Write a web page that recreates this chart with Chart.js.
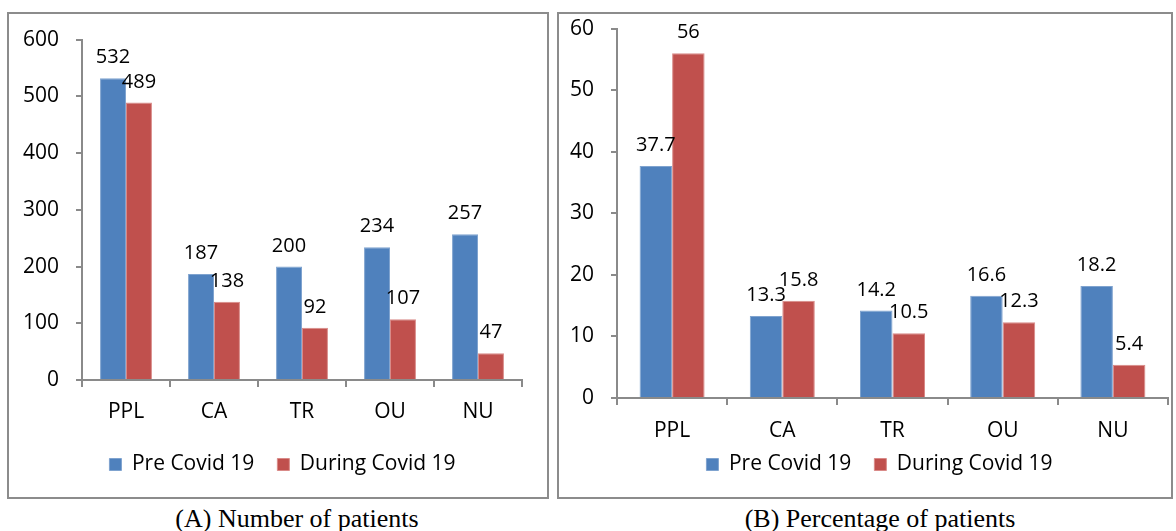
<!DOCTYPE html>
<html>
<head>
<meta charset="utf-8">
<script src="https://cdn.jsdelivr.net/npm/chart.js@4"></script>
<style>
  html, body { margin: 0; padding: 0; background: #fff; }
  body { width: 1176px; height: 531px; position: relative; overflow: hidden; }
  .panel { position: absolute; border: 2px solid #8c8c8c; box-sizing: border-box; }
  canvas { position: absolute; display: block; }
  .caption { position: absolute; top: 504px; font-family: "Liberation Serif", "Times New Roman", serif; font-size: 26px; color: #000; text-align: center; }
</style>
</head>
<body>
<div class="panel" style="left:7px; top:12px; width:542px; height:487px;"></div>
<div class="panel" style="left:557px; top:12px; width:616px; height:487px;"></div>
<canvas id="chartA" width="538" height="487" style="left:9px; top:10px;"></canvas>
<canvas id="chartB" width="612" height="498" style="left:559px; top:-1px;"></canvas>
<div class="caption" style="left:7px; width:580px;">(A) Number of patients</div>
<div class="caption" style="left:590px; width:580px;">(B) Percentage of patients</div>

<script>
// Data
const categories = ['PPL', 'CA', 'TR', 'OU', 'NU'];
const seriesNames = ['Pre Covid 19', 'During Covid 19'];

const patientsPre = [532, 187, 200, 234, 257];
const patientsDuring = [489, 138, 92, 107, 47];

const percentPre = [37.7, 13.3, 14.2, 16.6, 18.2];
const percentDuring = [56, 15.8, 10.5, 12.3, 5.4];

const countTicks = [0, 100, 200, 300, 400, 500, 600];
const percentTicks = [0, 10, 20, 30, 40, 50, 60];

const BLUE = '#4F81BD';
const RED = '#C0504D';
const AXIS = '#8a8a8a';
const FONT = '"Open Sans", Lato, sans-serif';

// Draw the value above each bar
const valueLabels = {
    id: 'valueLabels',
    afterDatasetsDraw(chart) {
        const ctx = chart.ctx;
        ctx.save();
        ctx.font = '20px ' + FONT;
        ctx.fillStyle = '#000';
        ctx.textAlign = 'center';
        ctx.textBaseline = 'alphabetic';
        chart.data.datasets.forEach((ds, i) => {
            const meta = chart.getDatasetMeta(i);
            meta.data.forEach((bar, j) => {
                ctx.fillText(String(ds.data[j]), bar.x, bar.y - 15);
            });
        });
        ctx.restore();
    }
};

// Nudge the legend box (the original sits right of the canvas centre)
const legendShift = {
    id: 'legendShift',
    afterLayout(chart, args, options) {
        const lg = chart.legend;
        if (!lg) return;
        const dx = options.dx || 0;
        const dy = options.dy || 0;
        lg.left += dx;
        lg.right += dx;
        lg.top += dy;
        lg.bottom += dy;
    }
};

function makeChart(id, pre, during, ticks, opts) {
    const ctx = document.getElementById(id);
    return new Chart(ctx, {
        type: 'bar',
        data: {
            labels: categories,
            datasets: [{
                label: seriesNames[0],
                data: pre,
                backgroundColor: BLUE,
                borderColor: '#7fa3cf',
                borderWidth: 1
            }, {
                label: seriesNames[1],
                data: during,
                backgroundColor: RED,
                borderColor: '#d98a88',
                borderWidth: 1
            }]
        },
        plugins: [valueLabels, legendShift],
        options: {
            responsive: false,
            animation: false,
            categoryPercentage: 0.59,
            barPercentage: 1,
            layout: {
                padding: { top: opts.top, right: opts.right, bottom: opts.bottom, left: 0 }
            },
            scales: {
                x: {
                    grid: {
                        offset: true,
                        drawOnChartArea: false,
                        drawTicks: true,
                        tickLength: 7,
                        color: AXIS,
                        lineWidth: 2
                    },
                    border: { display: true, color: AXIS, width: 2 },
                    ticks: {
                        color: '#000',
                        font: { family: FONT, size: 21 },
                        padding: opts.xPad
                    },
                    afterFit(scale) { scale.height = opts.xHeight; }
                },
                y: {
                    min: ticks[0],
                    max: ticks[ticks.length - 1],
                    afterBuildTicks(scale) {
                        scale.ticks = ticks.map(v => ({ value: v }));
                    },
                    grid: {
                        drawOnChartArea: false,
                        drawTicks: true,
                        tickLength: 6,
                        color: AXIS,
                        lineWidth: 2
                    },
                    border: { display: true, color: AXIS, width: 2 },
                    ticks: {
                        color: '#000',
                        font: { family: FONT, size: 21 },
                        padding: 17
                    },
                    afterFit(scale) { scale.width = opts.yWidth; }
                }
            },
            plugins: {
                legend: {
                    display: true,
                    position: 'bottom',
                    labels: {
                        color: '#000',
                        font: { family: FONT, size: 21 },
                        boxWidth: 12,
                        boxHeight: 12,
                        padding: 23
                    }
                },
                legendShift: { dx: opts.legendDx, dy: opts.legendDy },
                tooltip: { enabled: false }
            }
        }
    });
}

document.addEventListener('DOMContentLoaded', function () {
    makeChart('chartA', patientsPre, patientsDuring, countTicks,
        { top: 25, right: 25, bottom: 14, yWidth: 73, xHeight: 49, xPad: 12, legendDx: 17, legendDy: 2 });
    makeChart('chartB', percentPre, percentDuring, percentTicks,
        { top: 13, right: 3, bottom: 1, yWidth: 58, xHeight: 44, xPad: 13, legendDx: 16, legendDy: -11 });
});
</script>
</body>
</html>
